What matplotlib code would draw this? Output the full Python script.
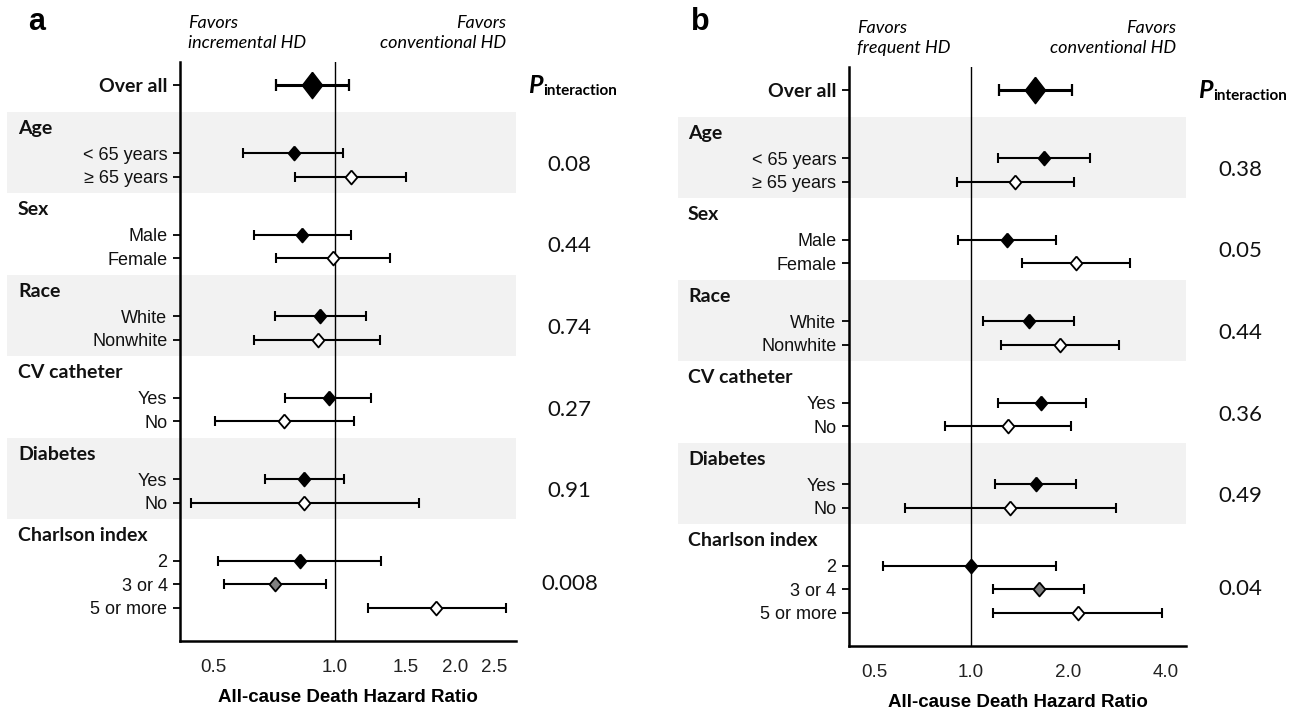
"""Forest plots: all-cause death hazard ratios by subgroup (panels a and b)."""
import matplotlib
matplotlib.use("Agg")
import matplotlib.pyplot as plt
from matplotlib.patches import Rectangle
from matplotlib.ticker import FixedFormatter, FixedLocator, NullLocator
import matplotlib.transforms as mtransforms

SANS = "Liberation Sans"
HUM = "Lato"
BAND = "#f2f2f2"
GRAY_FILL = "#808080"

# ---- shared row structure ----
GROUPS = ["Age", "Sex", "Race", "CV catheter", "Diabetes", "Charlson index"]
ROW_LABELS = [["< 65 years", "\u2265 65 years"],
              ["Male", "Female"],
              ["White", "Nonwhite"],
              ["Yes", "No"],
              ["Yes", "No"],
              ["2", "3 or 4", "5 or more"]]
ROW_FILLS = [["black", "white"]] * 5 + [["black", GRAY_FILL, "white"]]

# ---- panel a: incremental vs conventional HD ----
A_OVERALL = [0.88, 0.714, 1.083]          # HR, lower, upper
A_HR = [0.79, 1.10, 0.83, 0.99, 0.92, 0.91, 0.97, 0.75, 0.84, 0.84, 0.82, 0.71, 1.79]
A_LO = [0.593, 0.797, 0.631, 0.713, 0.711, 0.631, 0.753, 0.504, 0.672, 0.439, 0.512, 0.529, 1.21]
A_HI = [1.049, 1.506, 1.096, 1.377, 1.199, 1.296, 1.235, 1.115, 1.057, 1.619, 1.308, 0.95, 2.67]
A_P = ["0.08", "0.44", "0.74", "0.27", "0.91", "0.008"]
A_TICKS = [0.5, 1.0, 1.5, 2.0, 2.5]
A_TICKLABELS = ["0.5", "1.0", "1.5", "2.0", "2.5"]

# ---- panel b: frequent vs conventional HD ----
B_OVERALL = [1.574, 1.217, 2.05]
B_HR = [1.68, 1.37, 1.29, 2.12, 1.51, 1.89, 1.65, 1.30, 1.59, 1.32, 1.0, 1.62, 2.15]
B_LO = [1.21, 0.905, 0.913, 1.44, 1.087, 1.24, 1.21, 0.83, 1.19, 0.624, 0.532, 1.17, 1.17]
B_HI = [2.33, 2.08, 1.83, 3.12, 2.08, 2.88, 2.27, 2.04, 2.11, 2.82, 1.84, 2.24, 3.90]
B_P = ["0.38", "0.05", "0.44", "0.36", "0.49", "0.04"]
B_TICKS = [0.5, 1.0, 2.0, 4.0]
B_TICKLABELS = ["0.5", "1.0", "2.0", "4.0"]

# layout (row units)
FIRST_ROW = 2.9
GROUP_STEP = 3.47
DIAMOND = [(0, 1), (0.85, 0), (0, -1), (-0.85, 0), (0, 1)]
BIG_DIAMOND = [(0, 1), (0.77, 0), (0, -1), (-0.77, 0), (0, 1)]


def row_positions():
    ys, firsts = [], []
    for g, labels in enumerate(ROW_LABELS):
        first = FIRST_ROW + g * GROUP_STEP
        firsts.append(first)
        ys.append([first + j for j in range(len(labels))])
    return ys, firsts


def draw_panel(ax, overall, hr, lo, hi, pvals, ticks, ticklabels, xlim,
               fav_left, fav_right, band_left, header_x):
    ys, firsts = row_positions()
    flat_y = [y for grp in ys for y in grp]
    flat_fill = [f for grp in ROW_FILLS for f in grp]
    blend = mtransforms.blended_transform_factory(ax.transAxes, ax.transData)

    # shaded group bands
    for g in (0, 2, 4):
        ax.add_patch(Rectangle((band_left, firsts[g] - 1.75), 1 - band_left, 3.45,
                               transform=blend, facecolor=BAND, edgecolor="none",
                               clip_on=False, zorder=0))

    ax.axvline(1.0, color="black", lw=1.0, zorder=1)

    # overall estimate
    ax.errorbar([overall[0]], [0], xerr=[[overall[0] - overall[1]], [overall[2] - overall[0]]],
                fmt="none", ecolor="black", elinewidth=2.2, capsize=4, capthick=1.6, zorder=2)
    ax.plot([overall[0]], [0], marker=BIG_DIAMOND, ms=19, mfc="black", mec="black", ls="none",
            zorder=3)

    for x, l, h, y, fc in zip(hr, lo, hi, flat_y, flat_fill):
        ax.errorbar([x], [y], xerr=[[x - l], [h - x]], fmt="none", ecolor="black",
                    elinewidth=1.5, capsize=3.5, capthick=1.5, zorder=2)
        ax.plot([x], [y], marker=DIAMOND, ms=10, mfc=fc, mec="black", mew=1.3,
                ls="none", zorder=3)

    ax.set_xscale("log")
    ax.set_xlim(*xlim)
    ax.xaxis.set_major_locator(FixedLocator(ticks))
    ax.xaxis.set_major_formatter(FixedFormatter(ticklabels))
    ax.xaxis.set_minor_locator(NullLocator())
    ax.tick_params(axis="x", length=0, pad=13, labelsize=13.5, labelcolor="#222222")
    for t in ax.get_xticklabels():
        t.set_fontfamily(SANS)

    ax.set_ylim(23.66, -0.98)
    ax.set_yticks([0] + flat_y)
    labels = ["Over all"] + [lab for grp in ROW_LABELS for lab in grp]
    ax.set_yticklabels(labels)
    ax.tick_params(axis="y", length=5, width=1.3, pad=4, labelsize=13, labelcolor="#111111")
    ylabels = ax.get_yticklabels()
    for t in ylabels:
        t.set_fontfamily(SANS)
    ylabels[0].set_fontfamily(HUM)
    ylabels[0].set_fontweight("bold")
    ylabels[0].set_fontsize(14)

    for s in ("top", "right"):
        ax.spines[s].set_visible(False)
    for s in ("left", "bottom"):
        ax.spines[s].set_linewidth(1.8)

    # group headers
    for g, name in enumerate(GROUPS):
        ax.text(header_x, firsts[g] - 1.07, name, transform=blend, ha="left", va="center",
                fontfamily=HUM, fontweight="bold", fontsize=14, color="#111111")

    # interaction p-values
    ptxt = ax.text(1.035, 0, "P", transform=blend, ha="left", va="center",
                   fontfamily=HUM, fontweight="bold", fontstyle="italic", fontsize=18)
    ax.annotate("interaction", xy=(1.0, 0.0), xycoords=ptxt, xytext=(1, -1),
                textcoords="offset points", ha="left", va="bottom",
                fontfamily=HUM, fontweight="bold", fontsize=11)
    for g, p in enumerate(pvals):
        ymid = sum(ys[g]) / len(ys[g])
        ax.text(1.16, ymid, p, transform=blend, ha="center", va="center",
                fontfamily=HUM, fontsize=16, color="#111111")

    ax.text(0.024, 1.05, fav_left, transform=ax.transAxes, ha="left", va="center",
            fontfamily=HUM, fontstyle="italic", fontsize=13, linespacing=1.35)
    ax.text(0.97, 1.05, fav_right, transform=ax.transAxes, ha="right", va="center",
            multialignment="right", fontfamily=HUM, fontstyle="italic", fontsize=13,
            linespacing=1.35)

    ax.set_xlabel("All-cause Death Hazard Ratio", fontfamily=SANS, fontweight="bold",
                  fontsize=13.5, labelpad=9)


fig = plt.figure(figsize=(12.96, 7.11), dpi=100)
ax_a = fig.add_axes([180 / 1296, 1 - 641 / 711, 336 / 1296, 579 / 711])
ax_b = fig.add_axes([849 / 1296, 1 - 646 / 711, 337 / 1296, 579 / 711])
ax_a.patch.set_alpha(0)
ax_b.patch.set_alpha(0)

draw_panel(ax_a, A_OVERALL, A_HR, A_LO, A_HI, A_P, A_TICKS, A_TICKLABELS, (0.412, 2.83),
           "Favors\nincremental HD", "Favors\nconventional HD", -0.515, -0.482)
draw_panel(ax_b, B_OVERALL, B_HR, B_LO, B_HI, B_P, B_TICKS, B_TICKLABELS, (0.4185, 4.64),
           "Favors\nfrequent HD", "Favors\nconventional HD", -0.507, -0.478)

fig.text(37 / 1296, 1 - 22 / 711, "a", fontfamily=SANS, fontweight="bold", fontsize=22,
         ha="center", va="center")
fig.text(700 / 1296, 1 - 22 / 711, "b", fontfamily=SANS, fontweight="bold", fontsize=22,
         ha="center", va="center")

fig.savefig("out.png", dpi=100)
